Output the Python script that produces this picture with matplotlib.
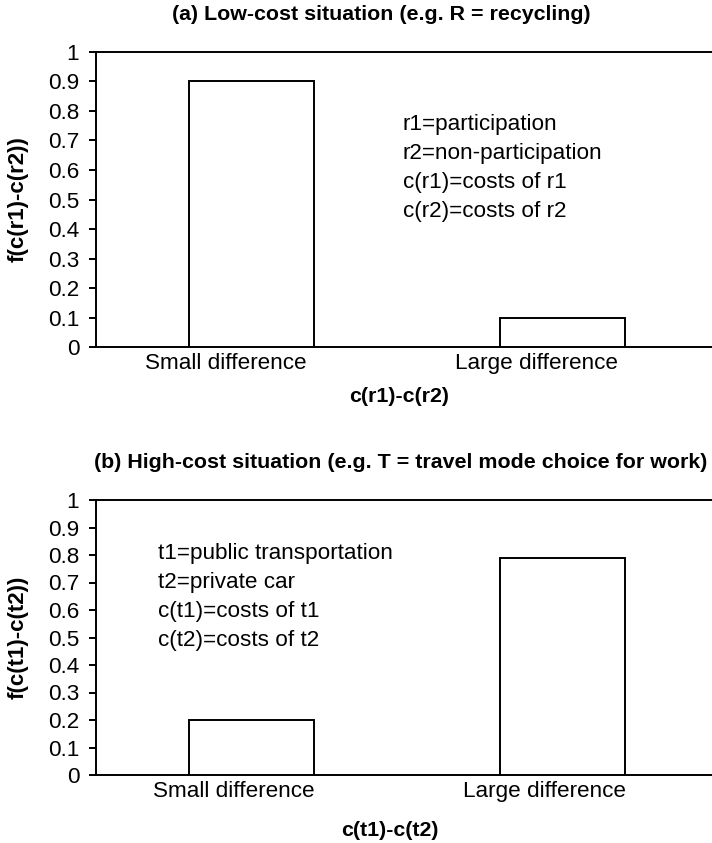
import matplotlib
matplotlib.use("Agg")
import matplotlib.pyplot as plt
import matplotlib.transforms as mtransforms

W, H = 712, 843

categories = ["Small difference", "Large difference"]
yticks = [0, 0.1, 0.2, 0.3, 0.4, 0.5, 0.6, 0.7, 0.8, 0.9, 1]

# panel (a) low-cost
a_values = [0.9, 0.1]
a_title = "(a) Low-cost situation (e.g. R = recycling)"
a_ylabel = "f(c(r1)-c(r2))"
a_xlabel = "c(r1)-c(r2)"
a_notes = ["r1=participation", "r2=non-participation",
           "c(r1)=costs of r1", "c(r2)=costs of r2"]

# panel (b) high-cost
b_values = [0.2, 0.79]
b_title = "(b) High-cost situation (e.g. T = travel mode choice for work)"
b_ylabel = "f(c(t1)-c(t2))"
b_xlabel = "c(t1)-c(t2)"
b_notes = ["t1=public transportation", "t2=private car",
           "c(t1)=costs of t1", "c(t2)=costs of t2"]

plt.rcParams["font.family"] = ["Liberation Sans", "DejaVu Sans"]
FS = 16.2
BFS = 15.4
LW = 1.4


def fx(x):
    return x / W


def fy(y):
    return 1 - y / H


def draw_panel(fig, top, bottom, values, title, title_xy, ylabel, xlabel,
               xlabel_xy, notes, notes_xy, label_shift):
    left = 96
    width = 622
    ax = fig.add_axes([fx(left), fy(bottom), width / W, (bottom - top) / H])
    x = list(range(len(categories)))
    ax.bar(x, values, width=0.405, color="white", edgecolor="black",
           linewidth=LW, zorder=3)
    ax.set_xlim(-0.5, 1.5)
    ax.set_ylim(0, 1)
    ax.set_yticks(yticks)
    ax.set_yticklabels([f"{v:g}" for v in yticks], fontsize=FS)
    ax.set_xticks(x)
    ax.set_xticklabels(categories, fontsize=FS)
    ax.tick_params(axis="x", length=0, pad=4)
    ax.tick_params(axis="y", length=5, width=LW, pad=7)
    for s in ax.spines.values():
        s.set_linewidth(LW)
    ax.spines["right"].set_visible(False)
    # category labels sit a little left of the bars in the original
    off = mtransforms.ScaledTranslation(label_shift / 100, 0, fig.dpi_scale_trans)
    for lab in ax.get_xticklabels():
        lab.set_transform(lab.get_transform() + off)

    fig.text(fx(title_xy[0]), fy(title_xy[1]), title, fontsize=BFS,
             fontweight="bold", ha="center", va="center")
    fig.text(fx(18), fy((top + bottom) / 2), ylabel, fontsize=16,
             fontweight="bold", rotation=90, ha="center", va="center")
    fig.text(fx(xlabel_xy[0]), fy(xlabel_xy[1]), xlabel, fontsize=BFS,
             fontweight="bold", ha="center", va="center")
    for i, line in enumerate(notes):
        fig.text(fx(notes_xy[0]), fy(notes_xy[1] + 29 * i), line,
                 fontsize=FS, ha="left", va="baseline")
    return ax


fig = plt.figure(figsize=(W / 100, H / 100), dpi=100)

draw_panel(fig, 51.7, 347.3, a_values, a_title, (381, 15), a_ylabel,
           a_xlabel, (399, 397), a_notes, (403, 130), -26)
draw_panel(fig, 500, 775, b_values, b_title, (401, 462), b_ylabel,
           b_xlabel, (390, 830), b_notes, (158, 559), -18)

fig.savefig("out.png", dpi=100)
